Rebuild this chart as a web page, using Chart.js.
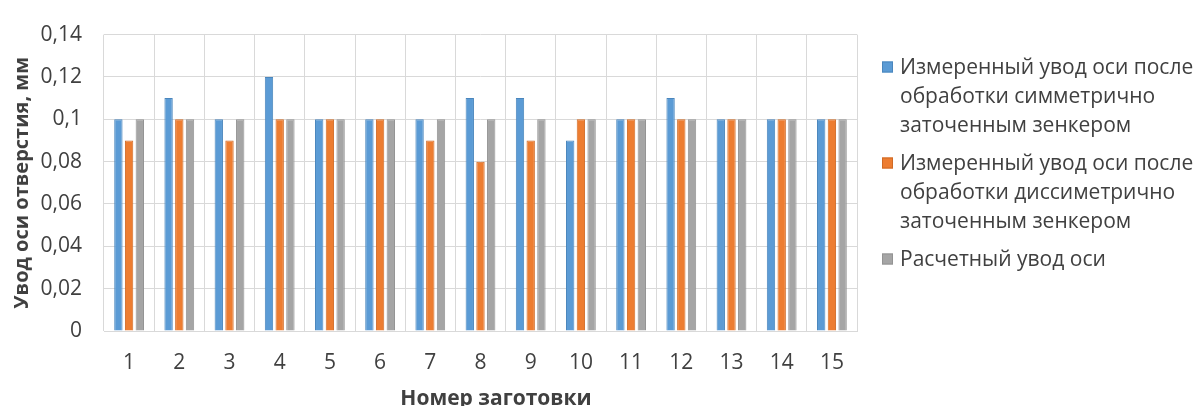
<!DOCTYPE html>
<html>
<head>
<meta charset="utf-8">
<script src="https://cdn.jsdelivr.net/npm/chart.js@4.4.1/dist/chart.umd.min.js"></script>
<style>
  html, body { margin: 0; padding: 0; background: #fff; }
  #wrap { width: 1194px; height: 406px; position: relative; }
</style>
</head>
<body>
<div id="wrap"><canvas id="c" width="1194" height="406"></canvas></div>
<script>
// Workpiece numbers along the x axis
const categories = ['1','2','3','4','5','6','7','8','9','10','11','12','13','14','15'];

// Axis drift, mm
const symmetricValues  = [0.10, 0.11, 0.10, 0.12, 0.10, 0.10, 0.10, 0.11, 0.11, 0.09, 0.10, 0.11, 0.10, 0.10, 0.10];
const asymmetricValues = [0.09, 0.10, 0.09, 0.10, 0.10, 0.10, 0.09, 0.08, 0.09, 0.10, 0.10, 0.10, 0.10, 0.10, 0.10];
const calculatedValues = [0.10, 0.10, 0.10, 0.10, 0.10, 0.10, 0.10, 0.10, 0.10, 0.10, 0.10, 0.10, 0.10, 0.10, 0.10];

// Legend labels, one array of lines per series
const seriesLabels = [
  ['Измеренный увод оси после', 'обработки симметрично', 'заточенным зенкером'],
  ['Измеренный увод оси после', 'обработки диссиметрично', 'заточенным зенкером'],
  ['Расчетный увод оси']
];

const yAxisTitle = 'Увод оси отверстия, мм';
const xAxisTitle = 'Номер заготовки';

const textColor = '#404040';
const gridColor = '#d9d9d9';
const fontFamily = '"Open Sans", "Noto Sans", sans-serif';

// Multi-line legend drawn to the right of the plot, plus the x axis title
const sideLegend = {
  id: 'sideLegend',
  afterDraw(chart) {
    const ctx = chart.ctx;
    ctx.save();
    ctx.font = '21px ' + fontFamily;
    ctx.textBaseline = 'middle';
    const lineH = 29;
    const itemGap = 9;
    let y = 67;
    chart.data.datasets.forEach((ds, i) => {
      const lines = seriesLabels[i];
      ctx.fillStyle = ds.backgroundColor;
      ctx.fillRect(882, y - 5.5, 11, 11);
      ctx.strokeStyle = ds.borderColor;
      ctx.lineWidth = 1;
      ctx.strokeRect(882.5, y - 5, 10, 10);
      ctx.fillStyle = textColor;
      lines.forEach((ln, k) => {
        ctx.fillText(ln, 900, y + 1 + k * lineH);
      });
      y += lines.length * lineH + itemGap;
    });

    // x axis title, slightly right of the plot centre
    ctx.font = 'bold 21px ' + fontFamily;
    ctx.textAlign = 'center';
    ctx.textBaseline = 'alphabetic';
    ctx.fillStyle = textColor;
    ctx.fillText(xAxisTitle, 496, 405);
    ctx.restore();
  }
};

new Chart(document.getElementById('c'), {
  type: 'bar',
  data: {
    labels: categories,
    datasets: [
      { label: seriesLabels[0].join(' '), data: symmetricValues,
        backgroundColor: '#5b9bd5', borderColor: '#4a86bd', borderWidth: 1 },
      { label: seriesLabels[1].join(' '), data: asymmetricValues,
        backgroundColor: '#ed7d31', borderColor: '#d06a25', borderWidth: 1 },
      { label: seriesLabels[2].join(' '), data: calculatedValues,
        backgroundColor: '#a5a5a5', borderColor: '#939393', borderWidth: 1 }
    ]
  },
  options: {
    responsive: false,
    animation: false,
    devicePixelRatio: 1,
    layout: { padding: { top: 24, right: 337, left: 10, bottom: 0 } },
    datasets: { bar: { categoryPercentage: 0.64, barPercentage: 0.78 } },
    plugins: {
      legend: { display: false },
      tooltip: { enabled: false }
    },
    scales: {
      x: {
        grid: { color: gridColor, offset: true, drawTicks: false, lineWidth: 1 },
        border: { color: gridColor },
        ticks: { color: textColor, font: { family: fontFamily, size: 21 }, padding: 19 },
        afterFit(scale) { scale.height = 75; }
      },
      y: {
        min: 0, max: 0.14,
        grid: { color: gridColor, drawTicks: false, lineWidth: 1 },
        border: { display: false },
        ticks: {
          stepSize: 0.02, color: textColor, padding: 22,
          font: { family: fontFamily, size: 21 },
          callback: v => String(Number(v.toFixed(2))).replace('.', ',')
        },
        title: { display: true, text: yAxisTitle, color: textColor,
                 font: { family: fontFamily, size: 20, weight: 'bold' }, padding: { top: 0, bottom: 0 } },
        afterFit(scale) { scale.width = 94; }
      }
    }
  },
  plugins: [sideLegend]
});
</script>
</body>
</html>
